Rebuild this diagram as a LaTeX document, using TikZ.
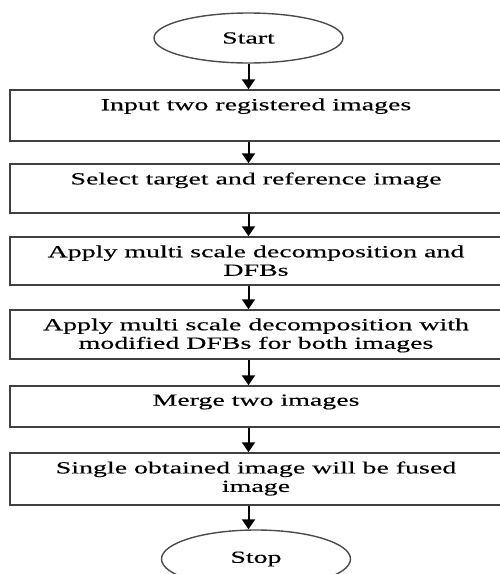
\documentclass[tikz,border=0pt]{standalone}
\usepackage{fontspec}
\setmainfont[FakeStretch=1.64, FakeBold=0.3]{Liberation Serif}
\usetikzlibrary{arrows.meta, positioning, shapes.geometric}

\begin{document}
\begin{tikzpicture}[x=1pt, y=-1pt, >={Triangle[width=13pt,length=10pt]},
    box/.style={draw=black!75, line width=1.5pt, minimum width=492pt, inner sep=0pt},
    term/.style={draw=black!70, ellipse, line width=1.4pt, minimum width=189pt, minimum height=50pt, inner sep=0pt},
    txt/.style={font=\fontsize{17}{18.5}\selectfont, align=center, inner sep=0pt},
    flow/.style={->, line width=2pt}]
    \useasboundingbox (0,0) rectangle (500,574);
    \clip (0,0) rectangle (500,574);

    % Terminals
    \node[term, txt] (start) at (248.5,38) {Start};
    \node[term, txt, minimum height=58pt] (stop) at (256,559) {Stop};

    % Process boxes
    \node[box, minimum height=51pt] (input) at (256,115.5) {};
    \node[box, minimum height=49pt] (select) at (256,188.5) {};
    \node[box, minimum height=48pt] (decomp) at (256,261) {};
    \node[box, minimum height=49pt] (moddfb) at (256,334.5) {};
    \node[box, minimum height=41pt] (merge) at (256,406.5) {};
    \node[box, minimum height=52pt] (fused) at (256,479) {};

    \node[txt, below=9pt of input.north] (inputtxt) {Input two registered images};
    \node[txt, below=9pt of select.north] (selecttxt) {Select target and reference image};
    \node[txt, below=9pt of decomp.north] (decomptxt) {Apply multi scale decomposition and\\DFBs};
    \node[txt, below=9pt of moddfb.north] (moddfbtxt) {Apply multi scale decomposition with\\modified DFBs for both images};
    \node[txt, below=9pt of merge.north] (mergetxt) {Merge two images};
    \node[txt, below=9pt of fused.north] (fusedtxt) {Single obtained image will be fused\\image};

    % Connectors
    \draw[flow] (start) -- (start |- input.north);
    \draw[flow] (input.south -| start) -- (select.north -| start);
    \draw[flow] (select.south -| start) -- (decomp.north -| start);
    \draw[flow] (decomp.south -| start) -- (moddfb.north -| start);
    \draw[flow] (moddfb.south -| start) -- (merge.north -| start);
    \draw[flow] (merge.south -| start) -- (fused.north -| start);
    \draw[flow] (fused.south -| start) -- (stop.north -| start);
\end{tikzpicture}
\end{document}
